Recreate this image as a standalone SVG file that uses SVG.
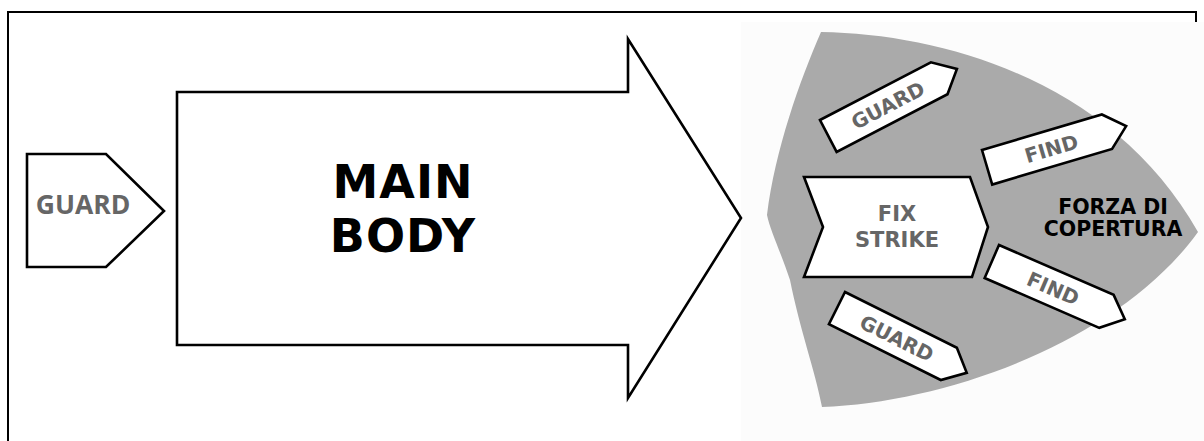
<svg xmlns="http://www.w3.org/2000/svg" width="1204" height="441" viewBox="0 0 1204 441">
<style>
.shape{fill:#fff;stroke:#000;stroke-width:2.6;stroke-linejoin:miter}
.lbl{font-family:"DejaVu Sans",Verdana,sans-serif;font-weight:bold;fill:#666;text-anchor:middle}
.blk{font-family:"DejaVu Sans",Verdana,sans-serif;font-weight:bold;fill:#000;text-anchor:middle}
</style>
<defs>
<polygon id="tag" class="shape" points="0,0 125,0 145,18 125,36 0,36"/>
</defs>
<rect width="1204" height="441" fill="#fff"/>
<path d="M8,441 V12 H1196 V22" fill="none" stroke="#000" stroke-width="2"/>
<rect x="741" y="22" width="463" height="419" fill="#fcfcfc"/>

<g id="guard-left">
<polygon class="shape" points="27,154 106,154 164,211 106,267 27,267"/>
<text x="83" y="214" font-family="'Open Sans',sans-serif" font-weight="bold" font-size="26.5" fill="#666" text-anchor="middle">GUARD</text>
</g>

<g id="main-body">
<polygon class="shape" points="177,92 628,92 628,39 741,218 628,398 628,345 177,345"/>
<text class="blk" x="403" y="198" font-size="46" letter-spacing="1">MAIN</text>
<text class="blk" x="403" y="252" font-size="46" letter-spacing="1">BODY</text>
</g>

<g id="forza-di-copertura">
<path d="M821,32 C950,34 1115,85 1198,232 C1120,340 950,402 822,407 C815,370 800,330 790,280 C780,250 770,230 767,215 C775,150 800,80 821,32 Z" fill="#aaa"/>
<text class="blk" x="1113" y="214" font-size="20.5">FORZA DI</text>
<text class="blk" x="1113" y="236" font-size="20.5">COPERTURA</text>
</g>

<g id="fix-strike">
<polygon class="shape" points="804,177 970,177 988,227 972,277 804,277 823,227"/>
<text class="lbl" x="897" y="221" font-size="21">FIX</text>
<text class="lbl" x="897" y="247" font-size="21">STRIKE</text>
</g>

<g id="guard-top" transform="translate(820,120) rotate(-27.5)">
<use href="#tag"/>
<text class="lbl" x="67" y="25.5" font-size="20">GUARD</text>
</g>

<g id="find-top" transform="translate(982,150) rotate(-16.5)">
<use href="#tag"/>
<text class="lbl" x="67" y="25.5" font-size="20">FIND</text>
</g>

<g id="find-bottom" transform="translate(999,245) rotate(23.5)">
<use href="#tag"/>
<text class="lbl" x="67" y="25.5" font-size="20">FIND</text>
</g>

<g id="guard-bottom" transform="translate(845,292) rotate(26.5)">
<use href="#tag"/>
<text class="lbl" x="67" y="25.5" font-size="20">GUARD</text>
</g>
</svg>
